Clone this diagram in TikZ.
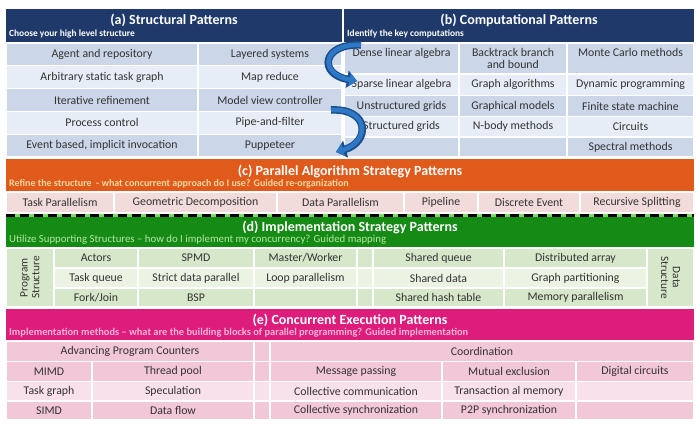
\documentclass[tikz,border=0pt]{standalone}
\usepackage{fontspec}
\setmainfont{Carlito}
\usetikzlibrary{arrows.meta}

\definecolor{navy}{HTML}{1F3A6A}
\definecolor{blueA}{HTML}{CBD6E8}
\definecolor{blueB}{HTML}{E7EDF6}
\definecolor{orangeband}{HTML}{E05A1C}
\definecolor{orangesub}{HTML}{FAD7A0}
\definecolor{pinkC}{HTML}{F2DCDB}
\definecolor{greenband}{HTML}{158A15}
\definecolor{greensub}{HTML}{B5E8A5}
\definecolor{greenA}{HTML}{D6E7CA}
\definecolor{greenB}{HTML}{EBF3E3}
\definecolor{dashgreen}{HTML}{7FD86A}
\definecolor{magband}{HTML}{DD1C7C}
\definecolor{magsub}{HTML}{F8B5D6}
\definecolor{pinkA}{HTML}{F2C7D8}
\definecolor{pinkB}{HTML}{F8E1EA}
\definecolor{arrowblue}{HTML}{2E78C8}
\definecolor{arrowedge}{HTML}{1B4F8C}
\definecolor{celltext}{HTML}{333333}

\tikzset{
  cell/.style={draw=white, line width=1.2pt, inner sep=0pt, align=center,
    text=celltext, font=\fontsize{11.8}{12.8}\selectfont},
  band/.style={draw=none},
  headtitle/.style={text=white, inner sep=0pt, font=\bfseries\fontsize{14}{16}\selectfont},
  headsub/.style={anchor=west, inner sep=0pt, font=\bfseries\fontsize{9.4}{10}\selectfont},
  sidelabel/.style={inner sep=0pt, align=center, text=celltext,
    font=\fontsize{11.3}{11.8}\selectfont},
  flowedge/.style={line width=7.5pt, draw=arrowedge, -{Triangle[length=10pt,width=17pt]}},
  flowcore/.style={line width=4.5pt, draw=arrowblue, -{Triangle[length=7.5pt,width=12.5pt]}},
}

% \pcell[style]{name}{x1}{y1}{x2}{y2}{fill}{text}: a filled box between two corners
\newcommand{\pcell}[8][]{%
  \pgfmathsetmacro\pcw{#5-#3}\pgfmathsetmacro\pch{#6-#4}%
  \pgfmathsetmacro\pcx{(#3+#5)/2}\pgfmathsetmacro\pcy{(#4+#6)/2}%
  \node[cell,fill=#7,minimum width=\pcw pt,minimum height=\pch pt,#1] (#2) at (\pcx,\pcy) {#8};}

\begin{document}
\begin{tikzpicture}[x=1pt,y=-1pt]
\useasboundingbox (0,0) rectangle (700,424);

% ---------- (a) Structural patterns ----------
\pcell[band]{ahead}{6}{9}{342}{42}{navy}{}
\node[headtitle] (atitle) at (174,20) {(a) Structural Patterns};
\node[headsub,text=white] (asub) at (9,34) {Choose your high level structure};

\pcell{a11}{6}{43}{198}{65.8}{blueA}{Agent and repository}
\pcell{a12}{198}{43}{342}{65.8}{blueA}{Layered systems}
\pcell{a21}{6}{65.8}{198}{88.6}{blueB}{Arbitrary static task graph}
\pcell{a22}{198}{65.8}{342}{88.6}{blueB}{Map reduce}
\pcell{a31}{6}{88.6}{198}{111.4}{blueA}{Iterative refinement}
\pcell{a32}{198}{88.6}{342}{111.4}{blueA}{Model view controller}
\pcell{a41}{6}{111.4}{198}{134.2}{blueB}{Process control}
\pcell{a42}{198}{111.4}{342}{134.2}{blueB}{Pipe-and-filter}
\pcell{a51}{6}{134.2}{198}{157}{blueA}{Event based, implicit invocation}
\pcell{a52}{198}{134.2}{342}{157}{blueA}{Puppeteer}

% ---------- (b) Computational patterns ----------
\pcell[band]{bhead}{344}{9}{694}{42}{navy}{}
\node[headtitle] (btitle) at (519,20) {(b) Computational Patterns};
\node[headsub,text=white] (bsub) at (347,34) {Identify the key computations};

\pcell{b11}{344}{43}{459}{74}{blueA}{Dense linear algebra\\~}
\pcell{b12}{459}{43}{567}{74}{blueA}{Backtrack branch\\and bound}
\pcell{b13}{567}{43}{694}{74}{blueA}{Monte Carlo methods\\~}
\pcell{b21}{344}{74}{459}{95.5}{blueB}{Sparse linear algebra}
\pcell{b22}{459}{74}{567}{95.5}{blueB}{Graph algorithms}
\pcell{b23}{567}{74}{694}{95.5}{blueB}{Dynamic programming}
\pcell{b31}{344}{95.5}{459}{116.5}{blueA}{Unstructured grids}
\pcell{b32}{459}{95.5}{567}{116.5}{blueA}{Graphical models}
\pcell{b33}{567}{95.5}{694}{116.5}{blueA}{Finite state machine}
\pcell{b41}{344}{116.5}{459}{137}{blueB}{Structured grids}
\pcell{b42}{459}{116.5}{567}{137}{blueB}{N-body methods}
\pcell{b43}{567}{116.5}{694}{137}{blueB}{Circuits}
\pcell{b51}{344}{137}{459}{157}{blueA}{}
\pcell{b52}{459}{137}{567}{157}{blueA}{}
\pcell{b53}{567}{137}{694}{157}{blueA}{Spectral methods}

% ---------- (c) Parallel algorithm strategy patterns ----------
\pcell[band]{chead}{6}{159}{694}{191}{orangeband}{}
\node[headtitle] (ctitle) at (350,171) {(c) Parallel Algorithm Strategy Patterns};
\node[headsub,text=orangesub,font=\bfseries\fontsize{10}{11}\selectfont] (csub) at (9,184)
  {Refine the structure~ - what concurrent approach do I use? Guided re-organization};

\pcell{c1}{6}{192}{114}{213}{pinkC}{Task Parallelism}
\pcell{c2}{114}{192}{277}{213}{pinkC}{Geometric Decomposition}
\pcell{c3}{277}{192}{404}{213}{pinkC}{Data Parallelism}
\pcell{c4}{404}{192}{478}{213}{pinkC}{Pipeline}
\pcell{c5}{478}{192}{580}{213}{pinkC}{Discrete Event}
\pcell{c6}{580}{192}{694}{213}{pinkC}{Recursive Splitting}

% ---------- (d) Implementation strategy patterns ----------
\pcell[band]{dhead}{6}{215}{694}{247}{greenband}{}
\coordinate (dashL) at (6,215);
\coordinate (dashR) at (694,215);
\draw[line width=3pt, dashgreen] (dashL) -- (dashR);
\draw[line width=3pt, black, dash pattern=on 9pt off 5pt] (dashL) -- (dashR);
\node[headtitle] (dtitle) at (350,227) {(d) Implementation Strategy Patterns};
\node[headsub,text=greensub,font=\fontsize{10.8}{11.5}\selectfont] (dsub) at (9,240)
  {Utilize Supporting Structures – how do I implement my concurrency? Guided mapping};

\pcell{dps}{6}{248}{54}{307}{greenA}{}
\node[sidelabel,rotate=90] (dpslabel) at (dps.center) {Program\\Structure};
\pcell{dds}{647}{248}{694}{307}{greenA}{}
\node[sidelabel,rotate=-90] (ddslabel) at (dds.center) {Data\\Structure};

\pcell{d11}{54}{248}{138}{268}{greenA}{Actors}
\pcell{d12}{138}{248}{254}{268}{greenA}{SPMD}
\pcell{d13}{254}{248}{357}{268}{greenA}{Master/Worker}
\pcell{d14}{357}{248}{373}{268}{greenA}{}
\pcell{d15}{373}{248}{504}{268}{greenA}{Shared queue}
\pcell{d16}{504}{248}{647}{268}{greenA}{Distributed array}
\pcell{d21}{54}{268}{138}{288}{greenB}{Task queue}
\pcell{d22}{138}{268}{254}{288}{greenB}{Strict data parallel}
\pcell{d23}{254}{268}{357}{288}{greenB}{Loop parallelism}
\pcell{d24}{357}{268}{373}{288}{greenB}{}
\pcell{d25}{373}{268}{504}{288}{greenB}{Shared data}
\pcell{d26}{504}{268}{647}{288}{greenB}{Graph partitioning}
\pcell{d31}{54}{288}{138}{307}{greenA}{Fork/Join}
\pcell{d32}{138}{288}{254}{307}{greenA}{BSP}
\pcell{d33}{254}{288}{357}{307}{greenA}{}
\pcell{d34}{357}{288}{373}{307}{greenA}{}
\pcell{d35}{373}{288}{504}{307}{greenA}{Shared hash table}
\pcell{d36}{504}{288}{647}{307}{greenA}{Memory parallelism}

% ---------- (e) Concurrent execution patterns ----------
\pcell[band]{ehead}{6}{309}{694}{340}{magband}{}
\node[headtitle] (etitle) at (350,320) {(e) Concurrent Execution Patterns};
\node[headsub,text=magsub,font=\bfseries\fontsize{10.4}{11}\selectfont] (esub) at (9,333)
  {Implementation methods – what are the building blocks of parallel programming? Guided implementation};

\pcell{e01}{6}{341}{254}{361.5}{pinkA}{Advancing Program Counters}
\pcell{e02}{254}{341}{270}{361.5}{pinkA}{}
\pcell{e03}{270}{341}{694}{361.5}{pinkA}{Coordination}

\pcell{e11}{6}{361.5}{92}{381.5}{pinkA}{MIMD}
\pcell{e12}{92}{361.5}{254}{381.5}{pinkA}{Thread pool}
\pcell{e13}{254}{361.5}{270}{381.5}{pinkA}{}
\pcell{e14}{270}{361.5}{442}{381.5}{pinkA}{Message passing}
\pcell{e15}{442}{361.5}{576}{381.5}{pinkA}{Mutual exclusion}
\pcell{e16}{576}{361.5}{694}{381.5}{pinkA}{Digital circuits}
\pcell{e21}{6}{381.5}{92}{401}{pinkB}{Task graph}
\pcell{e22}{92}{381.5}{254}{401}{pinkB}{Speculation}
\pcell{e23}{254}{381.5}{270}{401}{pinkB}{}
\pcell{e24}{270}{381.5}{442}{401}{pinkB}{Collective communication}
\pcell{e25}{442}{381.5}{576}{401}{pinkB}{Transaction al memory}
\pcell{e26}{576}{381.5}{694}{401}{pinkB}{}
\pcell{e31}{6}{401}{92}{420}{pinkA}{SIMD}
\pcell{e32}{92}{401}{254}{420}{pinkA}{Data flow}
\pcell{e33}{254}{401}{270}{420}{pinkA}{}
\pcell{e34}{270}{401}{442}{420}{pinkA}{Collective synchronization}
\pcell{e35}{442}{401}{576}{420}{pinkA}{P2P synchronization}
\pcell{e36}{576}{401}{694}{420}{pinkA}{}

% ---------- curved arrows between (a) and (b) ----------
\coordinate (arrOneS) at (361,45);
\coordinate (arrOneE) at (357,81);
\coordinate (arrTwoS) at (331,110);
\coordinate (arrTwoE) at (336,152);
\draw[flowedge] (arrOneS) .. controls (322,43) and (318,74) .. (arrOneE);
\draw[flowcore] (arrOneS) .. controls (322,43) and (318,74) .. (arrOneE);
\draw[flowedge] (arrTwoS) .. controls (370,108) and (370,142) .. (arrTwoE);
\draw[flowcore] (arrTwoS) .. controls (370,108) and (370,142) .. (arrTwoE);
\end{tikzpicture}
\end{document}
